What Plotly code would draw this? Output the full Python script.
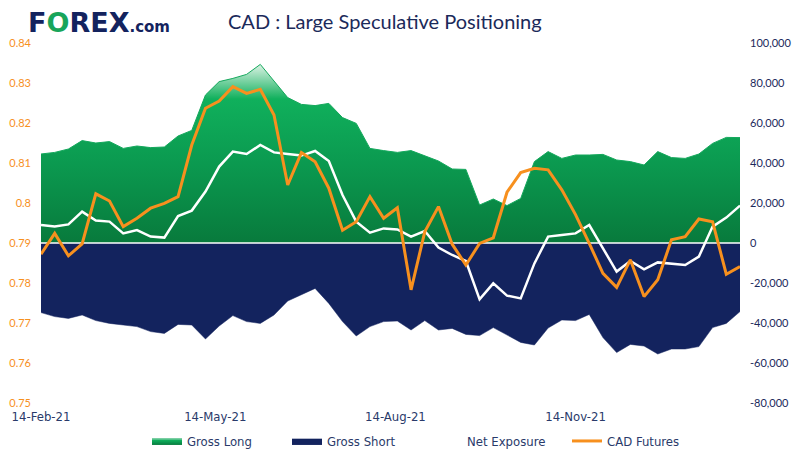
import plotly.graph_objects as go
import pandas as pd

dates = pd.date_range("2021-02-14", periods=52, freq="7D")

gross_long = [44500, 45300, 47000, 51200, 50000, 50700, 47300, 48500, 47700, 48000,
              53500, 56300, 74000, 80700, 82300, 84300, 89300, 81000, 72700, 69300,
              68700, 69800, 62700, 59800, 47300, 46200, 45300, 46200, 43500, 41000,
              37000, 36800, 19000, 22000, 18700, 22300, 40700, 45700, 42300, 44000,
              44000, 44300, 41500, 40700, 39000, 45700, 42700, 42300, 44500, 49800,
              52800, 52700]
gross_short = [-34800, -36800, -37700, -36000, -38800, -40200, -41000, -41800, -44300, -45200,
               -40700, -41000, -48000, -41500, -36300, -39300, -40200, -36000, -29000, -26000,
               -22700, -30200, -39300, -46500, -41800, -39300, -39000, -43500, -38800, -43500,
               -42700, -45700, -46300, -42300, -46000, -49700, -51000, -42500, -38500, -38800,
               -35700, -47300, -54800, -50700, -51500, -55500, -53000, -53000, -51800, -42300,
               -40200, -34300]
net_exposure = [9000, 8200, 9300, 15700, 11200, 10700, 4800, 6500, 3200, 2700,
                13500, 16200, 25700, 38200, 45700, 44500, 49000, 45300, 44500, 43700,
                46000, 41000, 24000, 10700, 5200, 7300, 6800, 3200, 6000, -2300,
                -6000, -9000, -28200, -20200, -26300, -27700, -10200, 3200, 4000, 4800,
                9000, -2700, -14300, -9000, -13200, -9700, -10200, -11000, -6800, 8200,
                12700, 18700]
cad_futures = [0.7872, 0.7924, 0.7868, 0.7898, 0.8023, 0.8005, 0.7941, 0.7962, 0.7987, 0.7999,
               0.8016, 0.8145, 0.8237, 0.8255, 0.8291, 0.8274, 0.8284, 0.8220, 0.8045, 0.8126,
               0.8103, 0.8037, 0.7932, 0.7953, 0.8016, 0.7962, 0.7988, 0.7783, 0.7928, 0.7991,
               0.7897, 0.7845, 0.7899, 0.7913, 0.8027, 0.8076, 0.8087, 0.8083, 0.8033, 0.7971,
               0.7899, 0.7824, 0.7789, 0.7858, 0.7766, 0.7808, 0.7908, 0.7916, 0.7960, 0.7953,
               0.7822, 0.7841]

x_tick_vals = ["2021-02-14", "2021-05-14", "2021-08-14", "2021-11-14"]
x_tick_text = ["14-Feb-21", "14-May-21", "14-Aug-21", "14-Nov-21"]
right_tick_vals = [100000, 80000, 60000, 40000, 20000, 0, -20000, -40000, -60000, -80000]
right_tick_text = ["100,000", "80,000", "60,000", "40,000", "20,000", "0",
                   "-20,000", "-40,000", "-60,000", "-80,000"]

NAVY = "#13235E"
ORANGE = "#F7901E"
COND = "Liberation Sans Narrow, DejaVu Sans Condensed, Arial Narrow, sans-serif"

fig = go.Figure()
fig.add_trace(go.Scatter(
    x=dates, y=gross_long, name="Gross Long", mode="lines",
    line=dict(color="#14A85C", width=1), fill="tozeroy",
    fillgradient=dict(type="vertical", start=0, stop=90000,
                      colorscale=[[0, "#087A3C"], [0.45, "#0B9A50"], [0.8, "#10B05C"],
                                  [1, "#E4F5EA"]]),
    yaxis="y"))
fig.add_trace(go.Scatter(
    x=dates, y=gross_short, name="Gross Short", mode="lines",
    line=dict(color=NAVY, width=0.5), fill="tozeroy", fillcolor=NAVY, yaxis="y"))
fig.add_trace(go.Scatter(
    x=dates, y=[0] * len(dates), mode="lines", line=dict(color="white", width=1.5),
    showlegend=False, hoverinfo="skip", yaxis="y"))
fig.add_trace(go.Scatter(
    x=dates, y=net_exposure, name="Net Exposure", mode="lines",
    line=dict(color="white", width=2.5), yaxis="y"))
fig.add_trace(go.Scatter(
    x=dates, y=cad_futures, name="CAD Futures", mode="lines",
    line=dict(color=ORANGE, width=3), yaxis="y2"))

fig.update_layout(
    width=800, height=457,
    margin=dict(l=41, r=60, t=43, b=54, autoexpand=False),
    paper_bgcolor="white", plot_bgcolor="white",
    showlegend=True,
    legend=dict(orientation="h", xref="container", yref="container",
                x=147 / 800, xanchor="left", y=(457 - 441) / 457, yanchor="middle",
                font=dict(family=COND, size=13, color="#2A3A6A"),
                entrywidth=95, entrywidthmode="pixels", itemwidth=30),
    xaxis=dict(type="date", range=[dates[0], dates[-1]], tickvals=x_tick_vals,
               ticktext=x_tick_text, showgrid=False, zeroline=False, showline=False,
               ticks="", tickfont=dict(family=COND, size=13, color="#2A3A6A"),
               ticklabelstandoff=4),
    yaxis=dict(side="right", range=[-80000, 100000], tickvals=right_tick_vals,
               ticktext=right_tick_text, showgrid=False, zeroline=False, showline=False,
               ticks="", tickfont=dict(family="Lato, sans-serif", size=11, color="#1C2A5C"),
               ticklabelstandoff=9),
    yaxis2=dict(side="left", overlaying="y", range=[0.75, 0.84], dtick=0.01,
                showgrid=False, zeroline=False, showline=False, ticks="",
                tickfont=dict(family="Lato, sans-serif", size=11, color=ORANGE),
                ticklabelstandoff=9),
    annotations=[
        dict(xref="paper", yref="paper", x=-0.021, y=1.058, xanchor="left", yanchor="middle",
             showarrow=False,
             text="<b>F<span style='color:#18A55A'>O</span>REX</b><b><span style='font-size:15px'>.com</span></b>",
             font=dict(family="DejaVu Sans, sans-serif", size=27, color=NAVY)),
        dict(xref="paper", yref="paper", x=0.492, y=1.062, xanchor="center", yanchor="middle",
             showarrow=False, text="CAD : Large Speculative Positioning",
             font=dict(family="Lato, sans-serif", size=20, color="#1B2A5A")),
    ],
)

fig.write_html("out.html")
